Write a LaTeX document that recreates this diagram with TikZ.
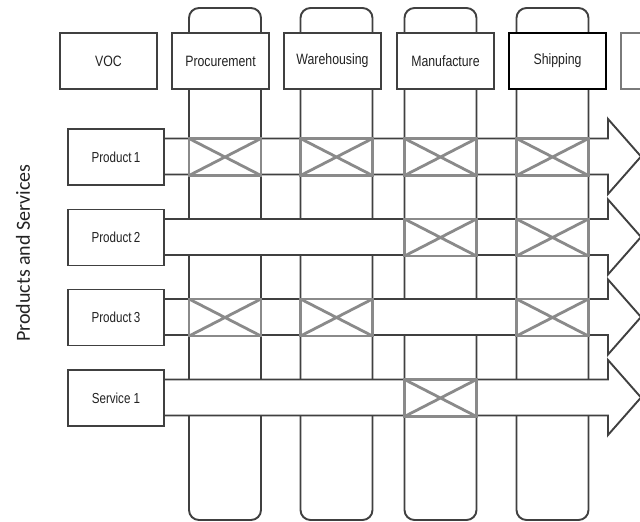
\documentclass[tikz,border=0pt]{standalone}
\usepackage{fontspec}
\setmainfont{Liberation Sans}
\newfontfamily\boxfont[FakeStretch=0.82]{Liberation Sans}
\newfontfamily\offerfont[FakeStretch=0.80]{Liberation Sans}
\newfontfamily\sidefont{Carlito}
\usetikzlibrary{positioning,calc}
\definecolor{vsLine}{HTML}{404040}
\definecolor{vsCross}{HTML}{8A8A8A}
\definecolor{vsEdge}{HTML}{7A7A7A}
\definecolor{vsText}{HTML}{222222}
\tikzset{
    vsBoxBase/.style={
        rectangle,
        draw=vsLine,
        line width=1.9pt,
        fill=white,
        minimum width=97pt,
        minimum height=56pt,
        inner sep=0pt,
        outer sep=0pt,
        text=vsText,
        font=\boxfont\fontsize{15}{17}\selectfont
    },
    % Variants
    stage/.style={vsBoxBase},
    stageKey/.style={vsBoxBase, draw=black, line width=2.6pt},
    stageCut/.style={vsBoxBase, draw=vsEdge, line width=1.4pt},
    offer/.style={vsBoxBase, minimum width=96pt, font=\offerfont\fontsize{14.5}{16}\selectfont},
    lane/.style={
        rectangle,
        draw=vsLine,
        line width=1.9pt,
        fill=white,
        rounded corners=10pt,
        minimum width=72pt,
        minimum height=512pt,
        inner sep=0pt
    },
    % Arrows and crossings
    band/.style={draw=vsLine, line width=1.9pt, fill=white, line join=miter},
    xing/.style={
        rectangle,
        draw=vsCross,
        line width=2.4pt,
        fill=white,
        minimum width=72pt,
        minimum height=37pt,
        inner sep=0pt,
        path picture={
            \draw[vsCross, line width=2.8pt]
                (path picture bounding box.north west) -- (path picture bounding box.south east)
                (path picture bounding box.south west) -- (path picture bounding box.north east);
        }
    }
}
\begin{document}
\begin{tikzpicture}[x=1pt, y=-1pt]
    \useasboundingbox (0,0) rectangle (640,522);
    \clip (0,0) rectangle (640,522);

    % process lanes
    \node[lane] (procLane) at (225,264) {};
    \node[lane] (wareLane) at (336.5,264) {};
    \node[lane] (manuLane) at (440.5,264) {};
    \node[lane] (shipLane) at (552.5,264) {};

    % header row
    \node[stage] (voc) at (108.5,61) {VOC};
    \node[stage, right=15pt of voc] (proc) {Procurement};
    \node[stage, right=15pt of proc] (ware) {Warehousing};
    \node[stage, right=16pt of ware] (manu) {Manufacture};
    \node[stageKey, right=15pt of manu] (ship) {Shipping};
    \node[stageCut, right=15pt of ship] (next) {};

    % products and services
    \node[offer] (p1) at (116,157) {Product\,1};
    \node[offer, below=24.5pt of p1] (p2) {Product\,2};
    \node[offer, below=24pt of p2] (p3) {Product\,3};
    \node[offer, below=24.5pt of p3] (s1) {Service 1};

    \node[rotate=90, text=vsText, font=\sidefont\fontsize{20}{24}\selectfont] (side) at (23,253) {Products and Services};

    % value streams
    \draw[band] (p1.east) ++(0,-18.5) -- ++(444,0) -- ++(0,-19.5) -- ++(33,37.5) -- ++(-33,37.5) -- ++(0,-19.5) -- ++(-444,0) -- cycle;
    \draw[band] (p2.east) ++(0,-18.5) -- ++(444,0) -- ++(0,-19.5) -- ++(33,37.5) -- ++(-33,37.5) -- ++(0,-19.5) -- ++(-444,0) -- cycle;
    \draw[band] (p3.east) ++(0,-18.5) -- ++(444,0) -- ++(0,-19.5) -- ++(33,37.5) -- ++(-33,37.5) -- ++(0,-19.5) -- ++(-444,0) -- cycle;
    \draw[band] (s1.east) ++(0,-18.5) -- ++(444,0) -- ++(0,-19.5) -- ++(33,37.5) -- ++(-33,37.5) -- ++(0,-19.5) -- ++(-444,0) -- cycle;

    % crossings
    \node[xing] (x11) at (procLane |- p1) {};
    \node[xing] (x12) at (wareLane |- p1) {};
    \node[xing] (x13) at (manuLane |- p1) {};
    \node[xing] (x14) at (shipLane |- p1) {};
    \node[xing] (x23) at (manuLane |- p2) {};
    \node[xing] (x24) at (shipLane |- p2) {};
    \node[xing] (x31) at (procLane |- p3) {};
    \node[xing] (x32) at (wareLane |- p3) {};
    \node[xing] (x34) at (shipLane |- p3) {};
    \node[xing] (x43) at (manuLane |- s1) {};
\end{tikzpicture}
\end{document}
